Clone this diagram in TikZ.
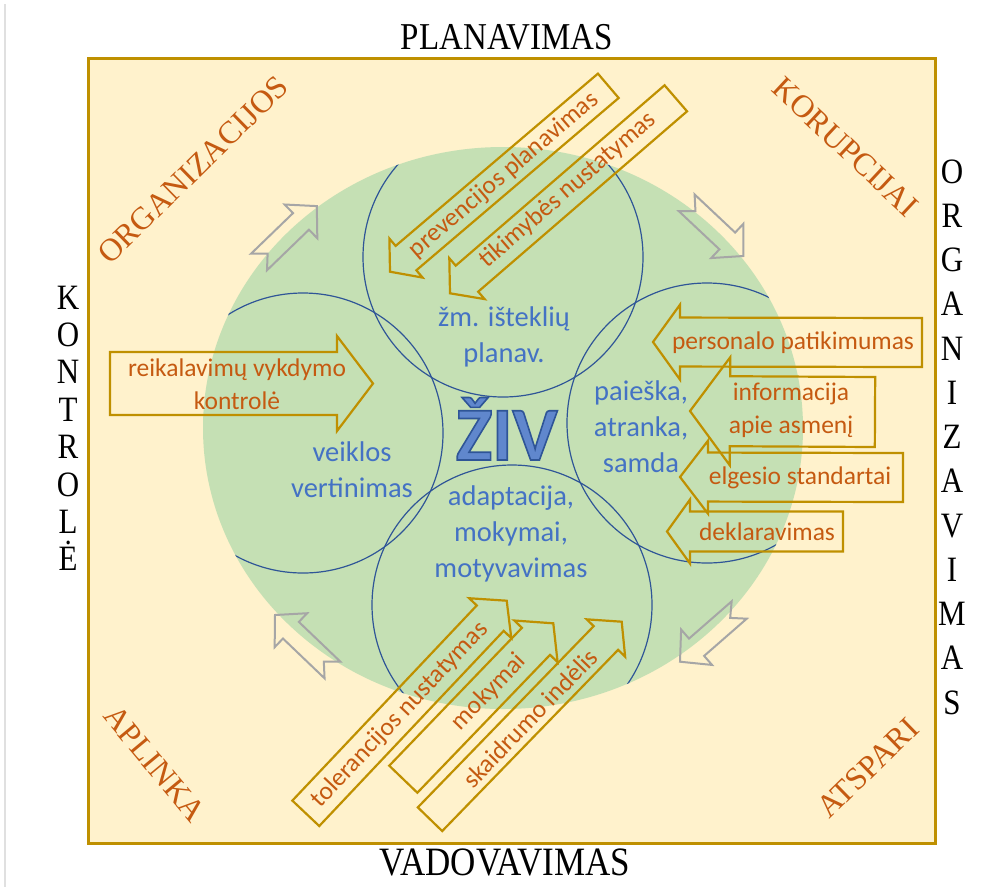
\documentclass[tikz,border=0pt]{standalone}
\usepackage{fontspec}
\setmainfont{Liberation Serif}
\newfontfamily\calfont{Carlito}
\usetikzlibrary{calc}

\definecolor{paper}{HTML}{FFF2CC}
\definecolor{gold}{HTML}{BF9000}
\definecolor{leaf}{HTML}{C5E0B4}
\definecolor{ring}{HTML}{2F5597}
\definecolor{ivblue}{HTML}{4472C4}
\definecolor{rust}{HTML}{C55A11}
\definecolor{hint}{HTML}{A6A6A6}

% outlined glyphs: fill in the current colour, stroke in ring blue
\newcommand{\rimtext}[1]{%
  \special{pdf:literal direct 2 Tr 1.6 w 0.184 0.333 0.592 RG}#1\special{pdf:literal direct 0 Tr}}
\newcommand{\tallcaps}[1]{\scalebox{1}[1.15]{#1}}

\tikzset{
  frame/.style={draw=gold, line width=3pt, fill=paper},
  ringline/.style={draw=ring, line width=1.2pt},
  goldarrow/.style={draw=gold, line width=2.2pt, line join=miter},
  grayarrow/.style={draw=hint, line width=2pt, line join=miter},
  areatext/.style={text=ivblue, font=\calfont\fontsize{28.5}{36}\selectfont, align=center, inner sep=0pt},
  arrowtext/.style={text=rust, font=\calfont\fontsize{25.5}{33}\selectfont, align=center, inner sep=0pt},
  corner/.style={text=rust, font=\fontsize{32}{32}\selectfont, inner sep=0pt},
  side/.style={text=black, font=\fontsize{31}{31}\selectfont, inner sep=0pt},
  bigword/.style={font=\calfont\bfseries\fontsize{76}{76}\selectfont, inner sep=0pt, anchor=base},
}

% block arrow: [style]{tail centre}{tip}{shaft half width}{head half width}{head length}
\newcommand{\blockarrow}[6][goldarrow]{%
  \coordinate (ba-t) at #2;
  \coordinate (ba-p) at #3;
  \coordinate (ba-b) at ($(ba-p)!#6!(ba-t)$);
  \draw[#1] ($(ba-t)!#4!90:(ba-p)$) -- ($(ba-b)!#4!90:(ba-p)$)
    -- ($(ba-b)!#5!90:(ba-p)$) -- (ba-p) -- ($(ba-b)!#5!-90:(ba-p)$)
    -- ($(ba-b)!#4!-90:(ba-p)$) -- ($(ba-t)!#4!-90:(ba-p)$) -- cycle;
}
% notched arrow: {tail centre}{tip}
\newcommand{\notcharrow}[2]{%
  \coordinate (na-t) at #1;
  \coordinate (na-p) at #2;
  \coordinate (na-b) at ($(na-p)!22pt!(na-t)$);
  \draw[grayarrow] ($(na-t)!11.5pt!90:(na-p)$) -- ($(na-b)!11.5pt!90:(na-p)$)
    -- ($(na-b)!23.5pt!90:(na-p)$) -- (na-p) -- ($(na-b)!23.5pt!-90:(na-p)$)
    -- ($(na-b)!11.5pt!-90:(na-p)$) -- ($(na-t)!11.5pt!-90:(na-p)$)
    -- ($(na-t)!12pt!(na-p)$) -- cycle;
}

\begin{document}
\begin{tikzpicture}[x=1pt, y=-1pt]
\useasboundingbox (0,0) rectangle (1000,887);
\fill[white] (0,0) rectangle (1000,887);
\draw[black!12, line width=1.2pt] (5,4) -- (5,887);

% frame and central field
\draw[frame] (88,58) rectangle (935,843);
\fill[leaf] (503,428) ellipse [x radius=300, y radius=281];

% four overlapping rings, kept inside the field
\begin{scope}
  \clip (503,428) ellipse [x radius=300, y radius=281];
  \draw[ringline] (503,257) circle [radius=140];
  \draw[ringline] (512,605) circle [radius=140];
  \draw[ringline] (303,433) circle [radius=140];
  \draw[ringline] (707,423) circle [radius=140];
\end{scope}

% area labels
\node[areatext] (a-top) at (504,337) {žm. išteklių\\planav.};
\node[areatext] (a-right) at (641,427) {paieška,\\atranka,\\samda};
\node[areatext] (a-left) at (352,470) {veiklos\\vertinimas};
\node[areatext] (a-bot) at (511,534) {adaptacija,\\mokymai,\\motyvavimas};

% central word
\node[bigword, text=ivblue!85!white] (ziv) at (506.7,460) {\rimtext{ŽIV}};

% grey cycle arrows
\notcharrow{(259,262)}{(316.8,206.1)}
\notcharrow{(686.7,202.8)}{(743.3,256)}
\notcharrow{(739.2,610)}{(680,661.7)}
\notcharrow{(332.5,670)}{(275,615)}

% golden block arrows
\blockarrow{(110,383.5)}{(373,383.5)}{31.5pt}{47.5pt}{36pt}
\blockarrow{(922,342.5)}{(653,342)}{24.5pt}{37.5pt}{27pt}
\blockarrow{(875,412)}{(690,411)}{35pt}{54pt}{40pt}
\blockarrow{(903,477.5)}{(680,477)}{24.5pt}{36.5pt}{28pt}
\blockarrow{(843,531.5)}{(667,531.5)}{20pt}{32pt}{23pt}
\blockarrow{(608.3,85.8)}{(390,271.7)}{16pt}{25.6pt}{21pt}
\blockarrow{(675.8,98.3)}{(450,293.3)}{17.2pt}{27pt}{22.4pt}
\blockarrow{(305.8,813.3)}{(506.7,600.7)}{18.5pt}{29pt}{24pt}
\blockarrow{(403.3,779.2)}{(553.3,623.3)}{19.5pt}{30pt}{25pt}
\blockarrow{(430,819.2)}{(621.7,621.7)}{17pt}{26.8pt}{22.7pt}

% arrow labels
\node[arrowtext] (t-reik) at (237,384) {reikalavimų vykdymo\\kontrolė};
\node[arrowtext] (t-pers) at (793,343) {personalo patikimumas};
\node[arrowtext] (t-info) at (791,410) {informacija\\apie asmenį};
\node[arrowtext] (t-elg) at (800,478) {elgesio standartai};
\node[arrowtext] (t-dekl) at (767,532) {deklaravimas};
\node[arrowtext, rotate=40.5] (t-prev) at (504,175) {prevencijos planavimas};
\node[arrowtext, rotate=40.7] (t-tik) at (568,190) {tikimybės nustatymas};
\node[arrowtext, rotate=46.6] (t-tol) at (400,715) {tolerancijos nustatymas};
\node[arrowtext, rotate=46] (t-mok) at (489,692) {mokymai};
\node[arrowtext, rotate=46] (t-ska) at (530,718) {skaidrumo indėlis};

% corner words
\node[corner, rotate=44.4] (c-org) at (193,170) {ORGANIZACIJOS};
\node[corner, rotate=-43] (c-kor) at (845.5,147) {KORUPCIJAI};
\node[corner, rotate=-50.3] (c-apl) at (155,764) {APLINKA};
\node[corner, rotate=44.4] (c-ats) at (868,768) {ATSPARI};

% words around the frame
\node[side, font=\fontsize{33}{33}\selectfont] (s-plan) at (507,37) {\tallcaps{PLANAVIMAS}};
\node[side, font=\fontsize{35}{35}\selectfont] (s-vad) at (505,862) {\tallcaps{VADOVAVIMAS}};
\foreach \c [count=\i] in {K,O,N,T,R,O,L,Ė}
  \node[side, anchor=base] (kon\i) at (68,{309+37.4*(\i-1)}) {\tallcaps{\c}};
\foreach \c [count=\i] in {O,R,G,A,N,I,Z,A,V,I,M,A,S}
  \node[side, anchor=base] (org\i) at (952,{183+44.25*(\i-1)}) {\tallcaps{\c}};
\end{tikzpicture}
\end{document}
